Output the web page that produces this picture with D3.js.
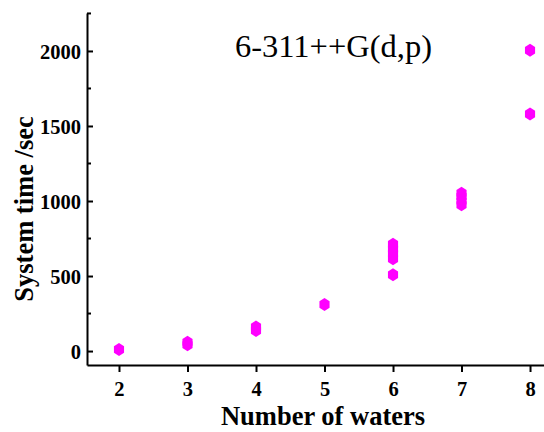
<!DOCTYPE html>
<html>
<head>
<meta charset="utf-8">
<script src="https://cdn.jsdelivr.net/npm/d3@7"></script>
<style>
  body { margin: 0; background: #fff; }
  svg { display: block; }
  .axis path, .axis line { stroke: #000; stroke-width: 2; }
  .axis text { font-family: "Liberation Serif", "Times New Roman", serif; font-weight: bold; font-size: 20.5px; fill: #000; }
  .axis-title { font-family: "Liberation Serif", "Times New Roman", serif; font-weight: bold; font-size: 26.5px; fill: #000; }
  .chart-title { font-family: "Liberation Serif", "Times New Roman", serif; font-size: 32.5px; fill: #000; }
</style>
</head>
<body>
<div id="chart"></div>
<script>
// Timings: one entry per calculation.
const waters = [2, 3, 3, 4, 4, 5, 6, 6, 6, 6, 6, 7, 7, 7, 7, 8, 8];
const times = [10, 42, 58, 137, 160, 311, 508, 615, 650, 680, 712, 975, 1000, 1030, 1052, 1580, 2005];
const xTicks = [2, 3, 4, 5, 6, 7, 8];
const yTicks = [0, 500, 1000, 1500, 2000];
const yMinorTicks = [250, 750, 1250, 1750, 2250];

const width = 544, height = 432;
const svg = d3.select('#chart').append('svg').attr('width', width).attr('height', height);

const x = d3.scaleLinear().domain([1.533, 8.204]).range([87, 544]);
const y = d3.scaleLinear().domain([-93, 2253]).range([365, 13]);

// x axis: ticks point outward (down)
svg.append('g')
  .attr('class', 'axis')
  .attr('transform', `translate(0,${y.range()[0]})`)
  .call(d3.axisBottom(x).tickValues(xTicks).tickFormat(d3.format('d')).tickSizeInner(7).tickSizeOuter(0).tickPadding(5))
  .call((a) => a.selectAll('text').attr('dy', '0.95em'));

// y axis: major ticks point inward (right), minor ticks shorter.
// d3 measures label spacing from max(tickSize, 0), so padding alone sets the gap here.
const yAxis = svg.append('g')
  .attr('class', 'axis')
  .attr('transform', `translate(${x.range()[0]},0)`)
  .call(d3.axisLeft(y).tickValues(yTicks).tickFormat(d3.format('d')).tickSizeInner(-6).tickSizeOuter(0).tickPadding(6));
yAxis.selectAll('.tick text').attr('dy', '0.35em');

yAxis.selectAll('line.minor')
  .data(yMinorTicks)
  .join('line')
  .attr('class', 'minor')
  .attr('x1', 0)
  .attr('x2', 4)
  .attr('y1', (d) => y(d))
  .attr('y2', (d) => y(d));

// hexagon marker, pointy top
const hexR = 6.5;
const hexPath = d3.line()(d3.range(6).map((i) => {
  const a = Math.PI / 2 + i * Math.PI / 3;
  return [Math.cos(a) * hexR * 0.9, Math.sin(a) * hexR];
})) + 'Z';

svg.append('g')
  .selectAll('path.pt')
  .data(d3.range(waters.length))
  .join('path')
  .attr('class', 'pt')
  .attr('d', hexPath)
  .attr('transform', (i) => `translate(${x(waters[i])},${y(times[i])})`)
  .attr('fill', '#ff00ff');

svg.append('text')
  .attr('class', 'chart-title')
  .attr('x', 235)
  .attr('y', 57)
  .text('6-311++G(d,p)');

svg.append('text')
  .attr('class', 'axis-title')
  .attr('x', 323)
  .attr('y', 425)
  .attr('text-anchor', 'middle')
  .text('Number of waters');

svg.append('text')
  .attr('class', 'axis-title')
  .attr('transform', 'translate(33,209) rotate(-90)')
  .attr('text-anchor', 'middle')
  .text('System time /sec');
</script>
</body>
</html>
